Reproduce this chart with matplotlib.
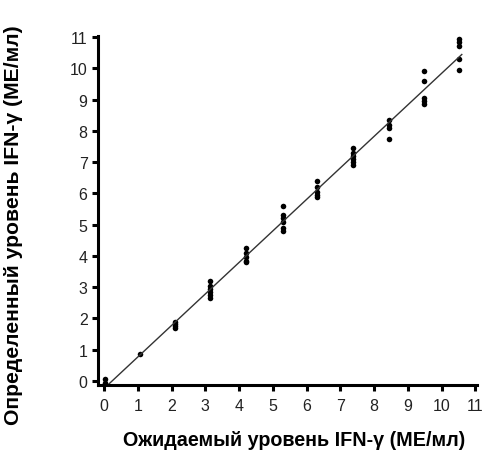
import matplotlib
matplotlib.use("Agg")
import matplotlib.pyplot as plt
import numpy as np

expected = [0.02, 1.07, 2.1, 3.15, 4.22, 5.3, 6.32, 7.37, 8.43, 9.47, 10.53]
measured = [
    [0.05, -0.05, -0.1],
    [0.85],
    [1.9, 1.82, 1.75, 1.68],
    [3.2, 3.05, 2.95, 2.85, 2.75, 2.65],
    [4.25, 4.1, 3.95, 3.85, 3.8],
    [5.6, 5.3, 5.2, 5.1, 4.9, 4.8],
    [6.4, 6.2, 6.05, 5.95, 5.9],
    [7.45, 7.3, 7.2, 7.1, 7.0, 6.9],
    [8.35, 8.2, 8.1, 7.75],
    [9.9, 9.6, 9.05, 8.95, 8.85],
    [10.95, 10.85, 10.7, 10.3, 9.95],
]
ticks = list(range(12))

plt.rcParams['font.family'] = ['Liberation Sans', 'DejaVu Sans']

fig = plt.figure(figsize=(4.84, 4.56), dpi=100)
ax = fig.add_axes([0.2025, 0.1535, 0.783, 0.765])

xs = np.concatenate([[e] * len(m) for e, m in zip(expected, measured)])
ys = np.concatenate(measured)
ax.plot(xs, ys, 'o', color='black', markersize=4, markeredgewidth=0)

slope, icpt = np.polyfit(xs, ys, 1)
xl = np.array([0.0, 10.6])
ax.plot(xl, slope * xl + icpt, '-', color='#333333', linewidth=1.0)

ax.set_xlim(-0.18, 11.05)
ax.set_ylim(-0.13, 11.03)
ax.set_xticks(ticks)
ax.set_yticks(ticks)
for s in ['top', 'right']:
    ax.spines[s].set_visible(False)
for s in ['left', 'bottom']:
    ax.spines[s].set_linewidth(2.2)
ax.tick_params(direction='out', length=4.5, width=2.2, labelsize=11.5,
               labelcolor='#222222')
ax.tick_params(axis='x', pad=5)
ax.tick_params(axis='y', pad=3)
for lab in ax.get_xticklabels() + ax.get_yticklabels():
    lab.set_family(['Liberation Sans Narrow', 'Liberation Sans'])

ax.set_xlabel('Ожидаемый уровень IFN-γ (МЕ/мл)', fontsize=14.2,
              fontweight='bold', va='center')
ax.set_ylabel('Определенный уровень IFN-γ (МЕ/мл)', fontsize=15.2,
              fontweight='bold', va='center')
ax.xaxis.set_label_coords(0.517, -0.155)
ax.yaxis.set_label_coords(-0.222, 0.461)

fig.savefig('out.png', dpi=100)
